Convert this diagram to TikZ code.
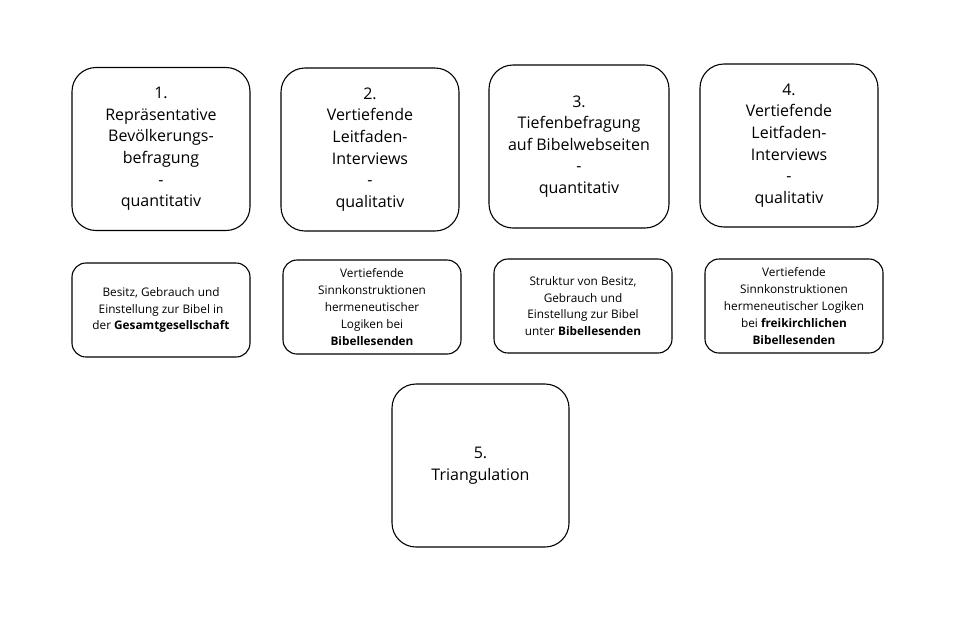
\documentclass[tikz,border=0pt]{standalone}
\usepackage{fontspec}
\setmainfont{Open Sans}
\usepackage{tikz}
\tikzset{>=latex}
\usetikzlibrary{positioning}

\begin{document}
\begin{tikzpicture}[x=1pt,y=1pt,
    bigbox/.style={draw,line width=1.1pt,rounded corners=24pt,minimum width=178pt,minimum height=163pt,align=center,inner sep=0pt,font=\fontsize{16}{21.6}\selectfont},
    smallbox/.style={draw,line width=1.1pt,rounded corners=14pt,minimum width=178pt,minimum height=94pt,align=center,inner sep=0pt,font=\fontsize{11.8}{16.8}\selectfont}]
                \useasboundingbox (0,0) rectangle (958,-619);
                \node[bigbox] (m1) at (161,-149) {1.\\Repräsentative\\Bevölkerungs-\\befragung\\-\\quantitativ};
                \node[bigbox] (m2) at (370,-149.5) {2.\\Vertiefende\\Leitfaden-\\Interviews\\-\\qualitativ};
                \node[bigbox,minimum width=180pt] (m3) at (579,-146.5) {3.\\Tiefenbefragung\\auf Bibelwebseiten\\-\\quantitativ};
                \node[bigbox] (m4) at (789,-145.5) {4.\\Vertiefende\\Leitfaden-\\Interviews\\-\\qualitativ};
                \node[smallbox] (d1) at (161,-310) {Besitz, Gebrauch und\\Einstellung zur Bibel in\\der \textbf{Gesamtgesellschaft}};
                \node[smallbox] (d2) at (372,-307) {Vertiefende\\Sinnkonstruktionen\\hermeneutischer\\Logiken bei\\\textbf{Bibellesenden}};
                \node[smallbox] (d3) at (583,-306) {Struktur von Besitz,\\Gebrauch und\\Einstellung zur Bibel\\unter \textbf{Bibellesenden}};
                \node[smallbox] (d4) at (794,-306) {Vertiefende\\Sinnkonstruktionen\\hermeneutischer Logiken\\bei \textbf{freikirchlichen}\\\textbf{Bibellesenden}};
                \node[bigbox,minimum width=177pt] (tri) at (480.5,-465.5) {5.\\Triangulation};
            \end{tikzpicture}
\end{document}
